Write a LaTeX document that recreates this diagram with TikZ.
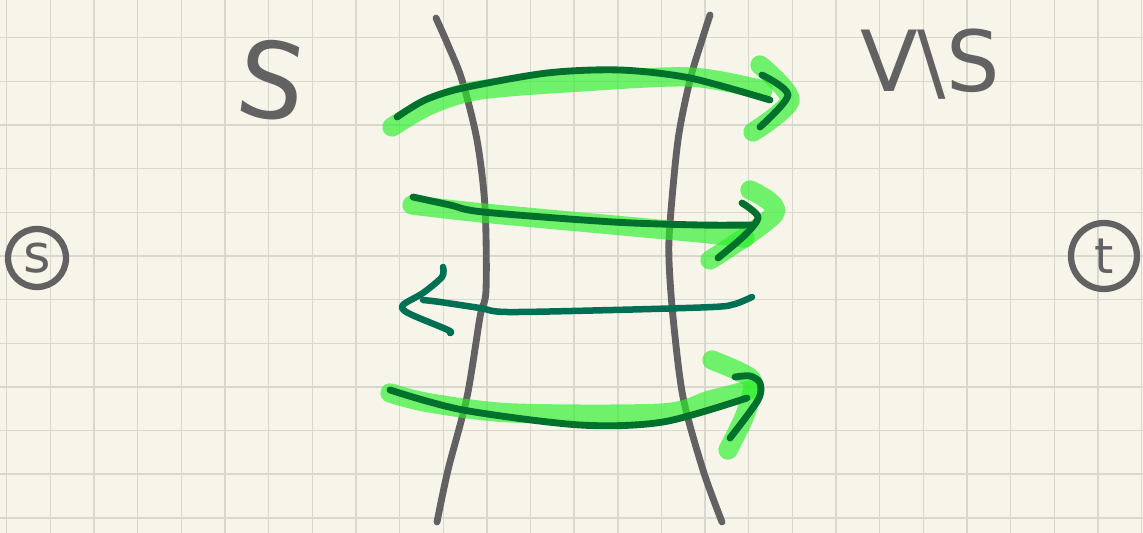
\documentclass[tikz,border=0pt]{standalone}
\usepackage{fontspec}
\setmainfont{DejaVu Sans}
\definecolor{paper}{RGB}{247,245,234}
\definecolor{gridgray}{RGB}{216,216,206}
\definecolor{pencilgray}{RGB}{98,98,98}
\definecolor{inkgreen}{RGB}{0,112,45}
\definecolor{inkteal}{RGB}{0,112,84}
\definecolor{markergreen}{RGB}{40,240,40}

\begin{document}
\begin{tikzpicture}[x=0.02cm,y=-0.02cm,
  graypen/.style={draw=pencilgray,line width=3.9pt,line cap=round,line join=round},
  greenpen/.style={draw=inkgreen,line width=3.9pt,line cap=round,line join=round},
  tealpen/.style={draw=inkteal,line width=3.7pt,line cap=round,line join=round},
  marker/.style={draw=markergreen,draw opacity=0.65,line width=11pt,line cap=round,line join=round},
  vertex/.style={circle,draw=pencilgray,line width=3.6pt,inner sep=0pt,text=pencilgray,font=\fontsize{30}{30}\selectfont}]
% Paper
\useasboundingbox (0,0) rectangle (1143,533);
\fill[paper] (0,0) rectangle (1143,533);
\foreach \i in {0,...,26} {
    \pgfmathsetmacro{\x}{6.7 + \i*43.65}
    \draw[gridgray,line width=0.8pt] (\x,0) -- (\x,533);
}
\foreach \j in {0,...,11} {
    \pgfmathsetmacro{\y}{37.7 + \j*43.65}
    \draw[gridgray,line width=0.8pt] (0,\y) -- (1143,\y);
}

% Cut borders
\draw[graypen] plot[smooth] coordinates {(436,18) (448,45) (462,80) (477,140) (485,207) (486,290) (480,317) (467,397) (448,470) (437,522)};
\draw[graypen] plot[smooth] coordinates {(710,15) (702,40) (690,80) (678,140) (670,223) (669,260) (673,317) (683,397) (703,470) (722,522)};

% Labels
\node[text=pencilgray,font=\fontsize{60}{60}\selectfont,rotate=-8] (setS) at (272,80) {S};
\node[text=pencilgray,font=\fontsize{48}{48}\selectfont] (rest) at (930,64) {V\textbackslash S};
\node[vertex,minimum size=1.16cm] (src) at (37,258) {s};
\node[vertex,minimum size=1.32cm,font=\fontsize{28}{28}\selectfont] (sink) at (1104,256) {t};

% Highlighter
\draw[marker] plot[smooth] coordinates {(392,127) (430,105) (480,90) (580,82) (690,77) (763,90)};
\draw[marker] plot[smooth] coordinates {(760,65) (790,100) (753,132)};
\draw[marker] plot[smooth] coordinates {(412,205) (483,213) (613,225) (700,233) (745,238)};
\draw[marker] plot[smooth] coordinates {(750,190) (775,213) (710,260)};
\draw[marker] plot[smooth] coordinates {(390,393) (430,403) (513,413) (663,413) (710,400) (750,390)};
\draw[marker] plot[smooth] coordinates {(712,360) (740,372) (753,383) (745,415) (728,450)};

% Forward edges
\draw[greenpen] plot[smooth] coordinates {(397,117) (425,100) (463,88) (547,73) (620,70) (690,78) (770,100)};
\draw[greenpen] plot[smooth] coordinates {(762,75) (788,95) (760,127)};
\draw[greenpen] plot[smooth] coordinates {(413,197) (450,205) (483,212) (613,222) (700,225) (752,225)};
\draw[greenpen] plot[smooth] coordinates {(742,203) (758,217) (745,235) (718,258)};
\draw[greenpen] plot[smooth] coordinates {(390,390) (463,410) (580,425) (663,422) (747,398)};
\draw[greenpen] plot[smooth] coordinates {(735,377) (750,376) (760,383) (758,400) (730,438)};

% Backward edge
\draw[tealpen] plot[smooth] coordinates {(752,297) (735,304) (713,307) (613,310) (507,312) (480,308) (440,302) (423,300)};
\draw[tealpen] plot[smooth] coordinates {(443,267) (442,277) (423,293) (403,305) (408,313) (448,330) (450,333)};
\end{tikzpicture}
\end{document}
